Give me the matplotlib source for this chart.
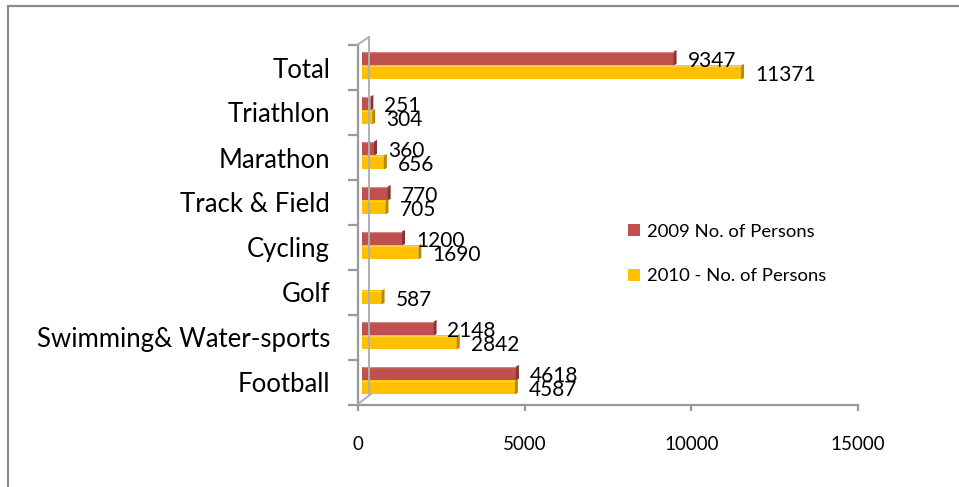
import matplotlib
matplotlib.use("Agg")
import matplotlib.pyplot as plt
import matplotlib.transforms as mtransforms
from matplotlib.patches import Polygon, Rectangle
from matplotlib.lines import Line2D
import numpy as np

plt.rcParams['font.family'] = ['Lato', 'DejaVu Sans']

# data (bottom to top)
categories = ["Football", "Swimming& Water-sports", "Golf", "Cycling",
              "Track & Field", "Marathon", "Triathlon", "Total"]
persons_2009 = [4618, 2148, None, 1200, 770, 360, 251, 9347]
persons_2010 = [4587, 2842, 587, 1690, 705, 656, 304, 11371]
series_names = ["2009 No. of Persons", "2010 - No. of Persons"]
x_ticks = [0, 5000, 10000, 15000]

red = "#C0504D"
red_dark = "#8C3432"
yellow = "#FFC000"
yellow_dark = "#B88A00"
axis_gray = "#9A9A9A"
txt = "#000000"

W, H = 959, 487
fig = plt.figure(figsize=(W / 100, H / 100), dpi=100)

# outer chart border (only left/top visible)
fig.add_artist(Rectangle((8 / W, -0.1), 1.2, 1 - 6 / H + 0.1, transform=fig.transFigure,
                         fill=False, edgecolor="#8C8C8C", linewidth=1.6))

ax = fig.add_axes([358 / W, 1 - 405 / H, 500 / W, 360 / H])
ax.set_xlim(0, 15000)
ax.set_ylim(-0.5, len(categories) - 0.5)

# shift bars a little to the right (3D depth)
shift = mtransforms.ScaledTranslation(4 / 100, 0, fig.dpi_scale_trans)
btrans = ax.transData + shift

bar_h = 0.31
off_2009 = 0.2
off_2010 = -0.11
cap_dx = 90
cap_dy = 0.035

ypos = np.arange(len(categories))


def draw_series(values, offset, color, dark):
    for y, v in zip(ypos, values):
        if v is None:
            continue
        yc = y + offset
        r = Rectangle((0, yc - bar_h / 2), v, bar_h, facecolor=color,
                      edgecolor="none", transform=btrans)
        ax.add_patch(r)
        # top highlight line
        ax.plot([0, v], [yc + bar_h / 2 - 0.02] * 2, color="white", alpha=0.3,
                linewidth=1, transform=btrans, solid_capstyle="butt")
        cap = Polygon([(v, yc - bar_h / 2), (v + cap_dx, yc - bar_h / 2 + cap_dy),
                       (v + cap_dx, yc + bar_h / 2 + cap_dy), (v, yc + bar_h / 2)],
                      closed=True, facecolor=dark, edgecolor="none", transform=btrans)
        ax.add_patch(cap)
        ax.annotate(str(v), xy=(v, yc - 0.05), xycoords=btrans,
                    xytext=(10, 0), textcoords="offset points",
                    va="center", ha="left", fontsize=15, color=txt)


draw_series(persons_2009, off_2009, red, red_dark)
draw_series(persons_2010, off_2010, yellow, yellow_dark)

# axes styling
for s in ["top", "right"]:
    ax.spines[s].set_visible(False)
for s in ["left", "bottom"]:
    ax.spines[s].set_color(axis_gray)
    ax.spines[s].set_linewidth(1.6)

ax.set_xticks(x_ticks)
ax.set_xticklabels([str(t) for t in x_ticks])
ax.tick_params(axis="x", length=4, width=1.6, color=axis_gray, pad=18,
               labelsize=13.5, labelcolor=txt)

ax.set_yticks(np.arange(-0.5, len(categories), 1.0))
ax.set_yticklabels([])
ax.set_yticks(ypos, minor=True)
ax.set_yticklabels(categories, minor=True)
ax.tick_params(axis="y", which="major", length=7, width=1.6, color=axis_gray)
ax.tick_params(axis="y", which="minor", length=0, pad=20, labelsize=18.5,
               labelcolor=txt)

# 3D wall edges
wall = dict(transform=fig.transFigure, color="#B0B0B0", linewidth=1.4)
fig.add_artist(Line2D([369 / W, 369 / W], [1 - 37 / H, 1 - 395 / H], **wall))
fig.add_artist(Line2D([357 / W, 369 / W], [1 - 45 / H, 1 - 37 / H], **wall))
fig.add_artist(Line2D([358 / W, 371 / W], [1 - 404 / H, 1 - 394 / H], **wall))

# legend
handles = [Rectangle((0, 0), 1, 1, facecolor=red), Rectangle((0, 0), 1, 1, facecolor=yellow)]
leg = fig.legend(handles, series_names, loc="upper left",
                 bbox_to_anchor=(611 / W, 1 - 207 / H), frameon=False,
                 fontsize=13.3, handlelength=0.65, handleheight=0.65,
                 handletextpad=0.4, labelspacing=1.55)

fig.savefig("out.png", dpi=100)
